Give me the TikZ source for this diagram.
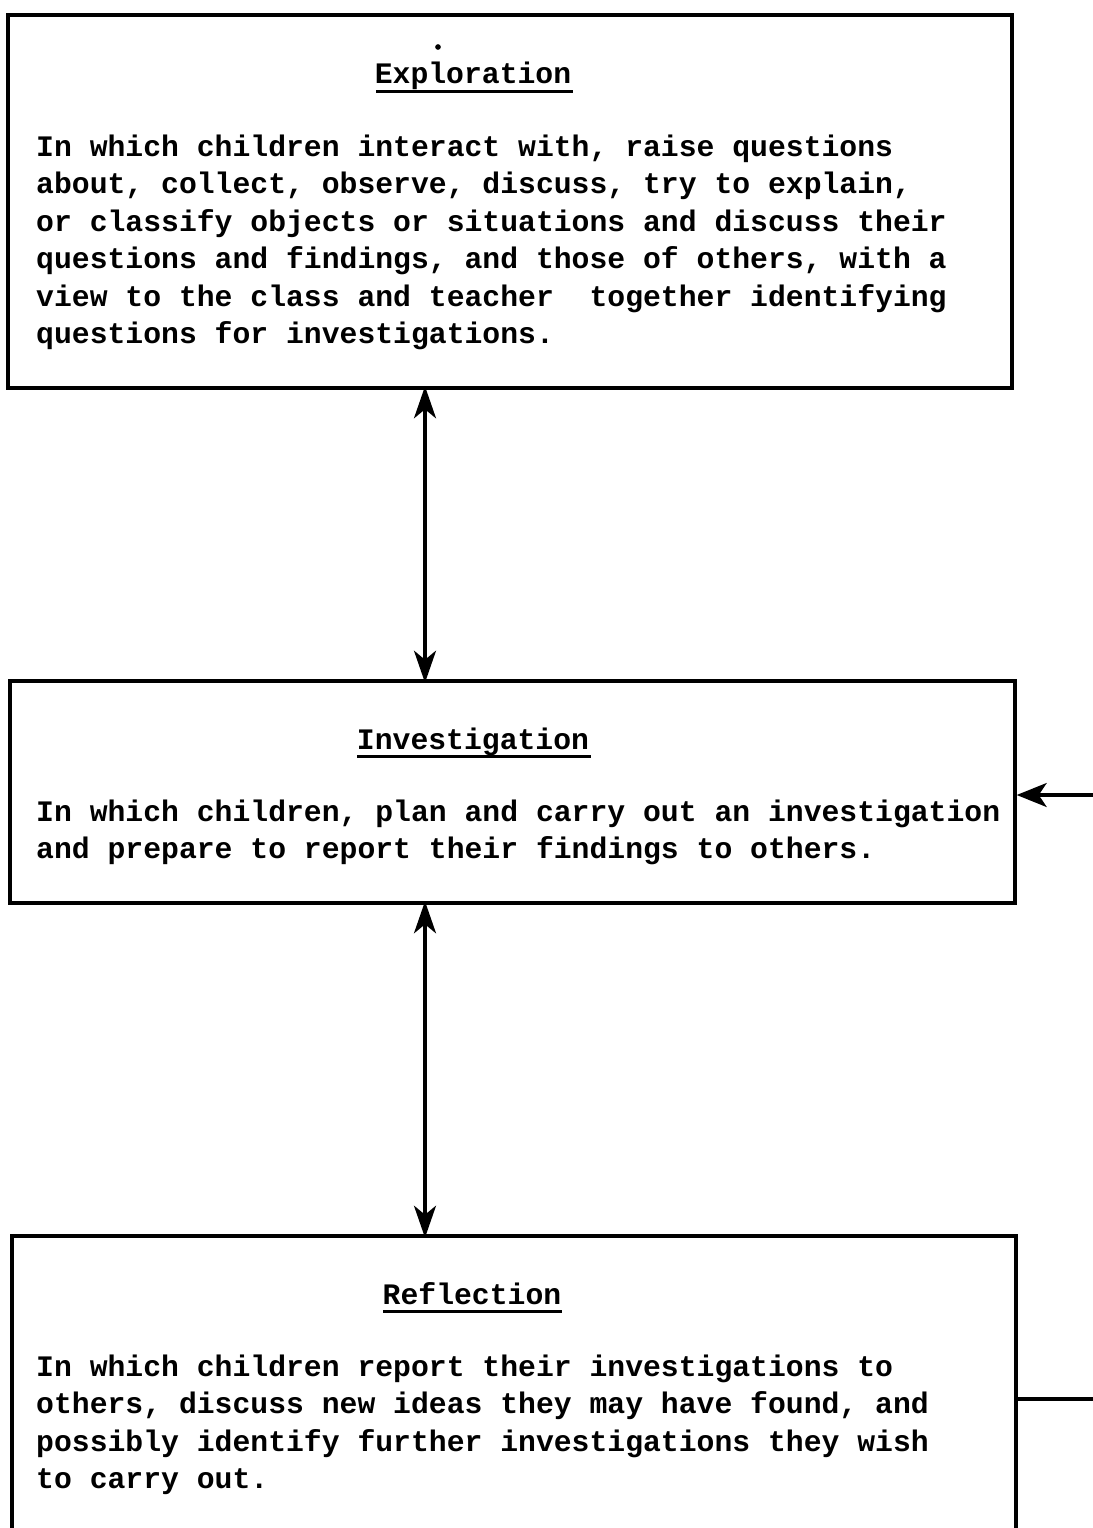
\documentclass[tikz,border=0pt]{standalone}
\usepackage{fontspec}
\setmonofont{Liberation Mono}
\usetikzlibrary{arrows.meta}
\newcommand{\typer}{\ttfamily\bfseries\fontsize{29.75}{37.5}\selectfont}
\tikzset{
  x=1pt, y=-1pt,
  box/.style={draw, line width=3.4pt},
  title/.style={anchor=base, inner sep=0pt, font=\typer},
  body/.style={anchor=base west, inner sep=0pt, font=\typer},
  uline/.style={line width=3pt},
  tip/.style={Stealth[length=32pt,width=22pt,inset=9pt]},
  link/.style={line width=3.2pt, {Stealth[length=32pt,width=22pt,inset=9pt]}-{Stealth[length=32pt,width=22pt,inset=9pt]}},
  back/.style={line width=3.2pt},
}
\newcommand{\lines}[2]{\parbox[t]{#1pt}{\raggedright\typer #2}}
\begin{document}
\begin{tikzpicture}
\useasboundingbox (0,0) rectangle (1092,1528);

% phase boxes
\draw[box] (8,15) rectangle (1012,388);
\coordinate (expS) at (425,388);
\draw[box] (10,681) rectangle (1015,903);
\coordinate (invN) at (425,681);
\coordinate (invS) at (425,903);
\coordinate (invE) at (1015,795);
\draw[box] (1016,1600) -- (1016,1236) -- (12,1236) -- (12,1600);
\coordinate (refN) at (425,1236);
\coordinate (refE) at (1016,1399);

% Exploration
\node[circle, fill, inner sep=2pt] (dot) at (438,47) {};
\node[title] (t1) at (473,84) {Exploration};
\draw[uline] (376,91) -- (573,91);
\node[body] (b1) at (36,156) {\lines{1000}{In which children interact with, raise questions\\
about, collect, observe, discuss, try to explain,\\
or classify objects or situations and discuss their\\
questions and findings, and those of others, with a\\
view to the class and teacher\ \ together identifying\\
questions for investigations.}};

% Investigation
\node[title] (t2) at (473,749) {Investigation};
\draw[uline] (357,756) -- (591,756);
\node[body] (b2) at (36,821) {\lines{1000}{In which children, plan and carry out an investigation\\
and prepare to report their findings to others.}};

% Reflection
\node[title] (t3) at (472,1304) {Reflection};
\draw[uline] (383,1311) -- (562,1311);
\node[body] (b3) at (36,1376) {\lines{1000}{In which children report their investigations to\\
others, discuss new ideas they may have found, and\\
possibly identify further investigations they wish\\
to carry out.}};

% links between phases
\draw[link] ([yshift=1.7pt]expS) -- ([yshift=-1.7pt]invN);
\draw[link] ([yshift=1.7pt]invS) -- ([yshift=-1.7pt]refN);

% feedback loop running off the right edge
\coordinate (loopA) at (1100,1399);
\coordinate (loopB) at (1100,795);
\draw[back] (refE) -- (loopA);
\draw[back, -{Stealth[length=30pt,width=24pt,inset=8pt]}] (loopB) -- ([xshift=1.7pt]invE);
\end{tikzpicture}
\end{document}
